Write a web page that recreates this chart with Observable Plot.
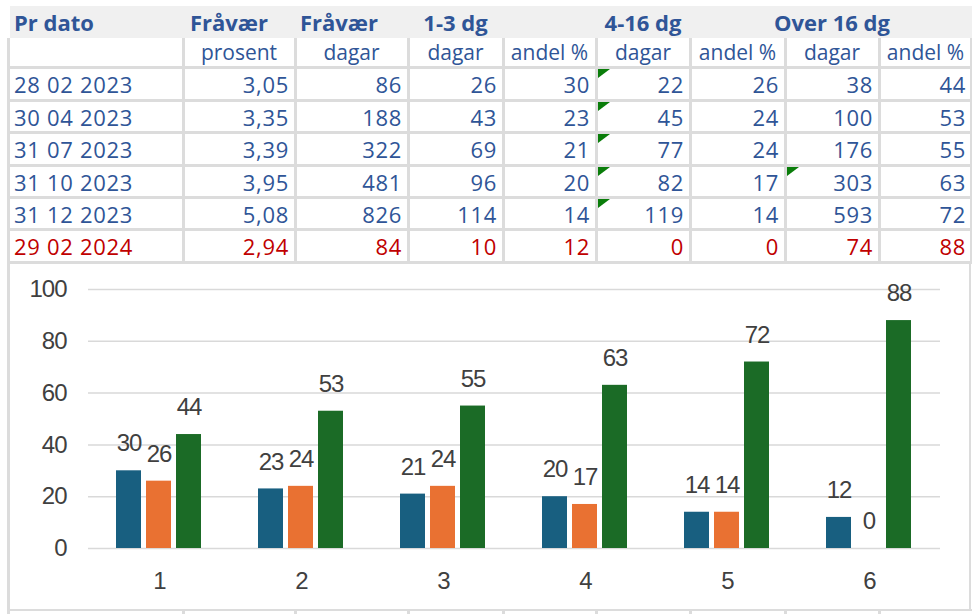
<!DOCTYPE html>
<html><head><meta charset="utf-8">
<script src="https://cdn.jsdelivr.net/npm/d3@7"></script>
<script src="https://cdn.jsdelivr.net/npm/@observablehq/plot@0.6"></script>
<style>
body{margin:0;background:#fff;width:972px;height:614px;overflow:hidden;position:relative;font-family:"Open Sans",sans-serif;}
.cell{position:absolute;white-space:nowrap;box-sizing:border-box;color:#2F5597;}
.ln{position:absolute;background:#dcdcdc;}
.tri{position:absolute;width:12px;height:9px;background:#0a7d0a;clip-path:polygon(0 0,100% 0,0 100%);}
#chart{position:absolute;left:0;top:262px;}
</style></head><body>
<div id="root"></div>
<div id="chart"></div>
<script>
// ---- data ----
const dates = ["28 02 2023","30 04 2023","31 07 2023","31 10 2023","31 12 2023","29 02 2024"];
const prosent = [3.05, 3.35, 3.39, 3.95, 5.08, 2.94];
const fravaerDagar = [86, 188, 322, 481, 826, 84];
const dagar13 = [26, 43, 69, 96, 114, 10];
const andel13 = [30, 23, 21, 20, 14, 12];
const dagar416 = [22, 45, 77, 82, 119, 0];
const andel416 = [26, 24, 24, 17, 14, 0];
const dagar16 = [38, 100, 176, 303, 593, 74];
const andel16 = [44, 53, 55, 63, 72, 88];
const headTop = ["Pr dato", "Fråvær", "Fråvær", "1-3 dg", "4-16 dg", "Over 16 dg"];
const headSub = ["", "prosent", "dagar", "dagar", "andel %", "dagar", "andel %", "dagar", "andel %"];
const groups = [1, 2, 3, 4, 5, 6];
const seriesNames = ["1-3 dg", "4-16 dg", "Over 16 dg"];
const seriesColors = ["#185F80", "#E97132", "#1B6B26"];
const yTicks = [0, 20, 40, 60, 80, 100];

// ---- table layout ----
const root = document.getElementById("root");
const colX = [8, 183, 295, 408, 503, 596, 690, 785, 879, 972];
const rowY = [67, 100, 132, 165, 197, 229, 262];
function add(cls, css, text) {
  const d = document.createElement("div");
  d.className = cls;
  Object.assign(d.style, css);
  if (text != null) d.textContent = text;
  root.appendChild(d);
  return d;
}
// header background
add("ln", {left: "10px", top: "6px", width: "962px", height: "32px", background: "#f0f0f0"});
// grid lines
for (const y of rowY) add("ln", {left: "8px", top: (y - 1) + "px", width: "964px", height: "3px"});
for (const x of colX.slice(0, 9)) add("ln", {left: (x - 1) + "px", top: "38px", width: "3px", height: "224px"});
add("ln", {left: "970px", top: "38px", width: "2px", height: "224px"});
// header row 1
const bold = {fontWeight: "700", fontSize: "22px", top: "6px", height: "32px", lineHeight: "32px"};
add("cell", {...bold, left: "14px"}, headTop[0]);
add("cell", {...bold, left: "190px"}, headTop[1]);
add("cell", {...bold, left: "300px"}, headTop[2]);
[[3, headTop[3]], [5, headTop[4]], [7, headTop[5]]].forEach(([c, t]) => {
  const cx = (colX[c] + colX[c + 1]) / 2;
  add("cell", {...bold, left: (cx - 100) + "px", width: "200px", textAlign: "center"}, t);
});
// header row 2
headSub.forEach((t, c) => {
  if (!t) return;
  add("cell", {left: colX[c] + "px", width: (colX[c + 1] - colX[c]) + "px", top: "38px", height: "29px",
    lineHeight: "29px", textAlign: "center", fontSize: "21px"}, t);
});
// data rows
const fmt = v => v.toFixed(2).replace(".", ",");
dates.forEach((dte, r) => {
  const vals = [dte, fmt(prosent[r]), fravaerDagar[r], dagar13[r], andel13[r], dagar416[r], andel416[r], dagar16[r], andel16[r]];
  const color = r === dates.length - 1 ? "#C00000" : "#2F5597";
  vals.forEach((v, c) => {
    const css = {top: (rowY[r] + 1) + "px", height: "32px", lineHeight: "32px", fontSize: "22px", letterSpacing: "0.7px", color};
    if (c === 0) add("cell", {...css, left: "14px"}, String(v));
    else add("cell", {...css, left: colX[c] + "px", width: (colX[c + 1] - colX[c] - 6) + "px", textAlign: "right"}, String(v));
  });
});
// error indicator triangles
[[0, 5], [1, 5], [2, 5], [3, 5], [4, 5], [3, 7]].forEach(([r, c]) => {
  add("tri", {left: (colX[c] + 2) + "px", top: (rowY[r] + 2) + "px"});
});
// chart box
add("ln", {left: "7px", top: "261px", width: "965px", height: "2px"});
add("ln", {left: "7px", top: "261px", width: "3px", height: "353px"});
add("ln", {left: "969px", top: "261px", width: "2px", height: "350px"});
add("ln", {left: "7px", top: "609px", width: "965px", height: "2px"});
for (const x of colX.slice(1, 9)) add("ln", {left: (x - 1) + "px", top: "609px", width: "3px", height: "5px"});

// ---- chart ----
const rows = groups.flatMap((g, i) => [
  {g, s: seriesNames[0], v: andel13[i]},
  {g, s: seriesNames[1], v: andel416[i]},
  {g, s: seriesNames[2], v: andel16[i]}
]);
const chart = Plot.plot({
  width: 972, height: 347,
  marginLeft: 87, marginRight: 31, marginTop: 27, marginBottom: 61,
  style: {fontFamily: "'Liberation Sans', Arial, sans-serif", fontSize: "24px", color: "#404040",
    background: "transparent", overflow: "visible", letterSpacing: "-1px"},
  fx: {domain: groups, padding: 0, label: null, axis: "bottom", tickSize: 0, tickPadding: 23},
  x: {domain: seriesNames, paddingInner: 0.16, paddingOuter: 0.876, axis: null},
  y: {domain: [0, 100], ticks: yTicks, label: null, tickSize: 0, tickPadding: 22},
  color: {domain: seriesNames, range: seriesColors},
  marks: [
    Plot.gridY({ticks: yTicks, stroke: "#d9d9d9", strokeOpacity: 1, strokeWidth: 1.5}),
    Plot.barY(rows, {fx: "g", x: "s", y: "v", fill: "s"}),
    Plot.text(rows, {fx: "g", x: "s", y: "v", text: d => String(d.v), dy: -27, fill: "#404040", fontSize: 24})
  ]
});
document.getElementById("chart").appendChild(chart);
</script>
</body></html>
